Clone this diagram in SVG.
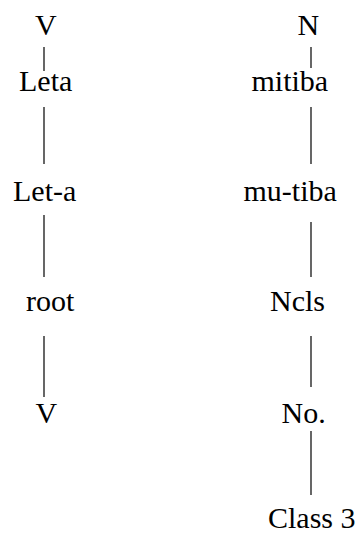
<svg xmlns="http://www.w3.org/2000/svg" width="360" height="534" viewBox="0 0 360 534">
  <style>
    .edge { stroke: #000; stroke-width: 1.2; fill: none; }
  </style>
  <rect width="360" height="534" fill="#fff"/>
  <g id="connectors">
    <line class="edge" x1="44" y1="47" x2="44" y2="71"/>
    <line class="edge" x1="44" y1="107" x2="44" y2="164"/>
    <line class="edge" x1="44" y1="215" x2="44" y2="277"/>
    <line class="edge" x1="44" y1="336" x2="44" y2="397"/>
    <line class="edge" x1="311" y1="47" x2="311" y2="68"/>
    <line class="edge" x1="311" y1="107" x2="311" y2="164"/>
    <line class="edge" x1="311" y1="222" x2="311" y2="277"/>
    <line class="edge" x1="311" y1="336" x2="311" y2="387"/>
    <line class="edge" x1="311" y1="431" x2="311" y2="495"/>
  </g>
  <!-- labels: Times-metric serif -->
  <g font-family="'Liberation Serif', 'DejaVu Serif', serif" font-size="30" fill="#000">
    <g id="v-top"><text x="35" y="35">V</text></g>
    <g id="leta"><text x="19" y="91">Leta</text></g>
    <g id="let-a"><text x="13" y="201">Let-a</text></g>
    <g id="root"><text x="26" y="311">root</text></g>
    <g id="v-bottom"><text x="35.5" y="423">V</text></g>
    <g id="n-top"><text x="297.5" y="35">N</text></g>
    <g id="mitiba"><text x="251.5" y="91">mitiba</text></g>
    <g id="mu-tiba"><text x="243.5" y="201">mu-tiba</text></g>
    <g id="ncls"><text x="270" y="311">Ncls</text></g>
    <g id="no"><text x="281.5" y="423">No.</text></g>
    <g id="class3"><text x="268" y="528">Class 3</text></g>
  </g>
</svg>
